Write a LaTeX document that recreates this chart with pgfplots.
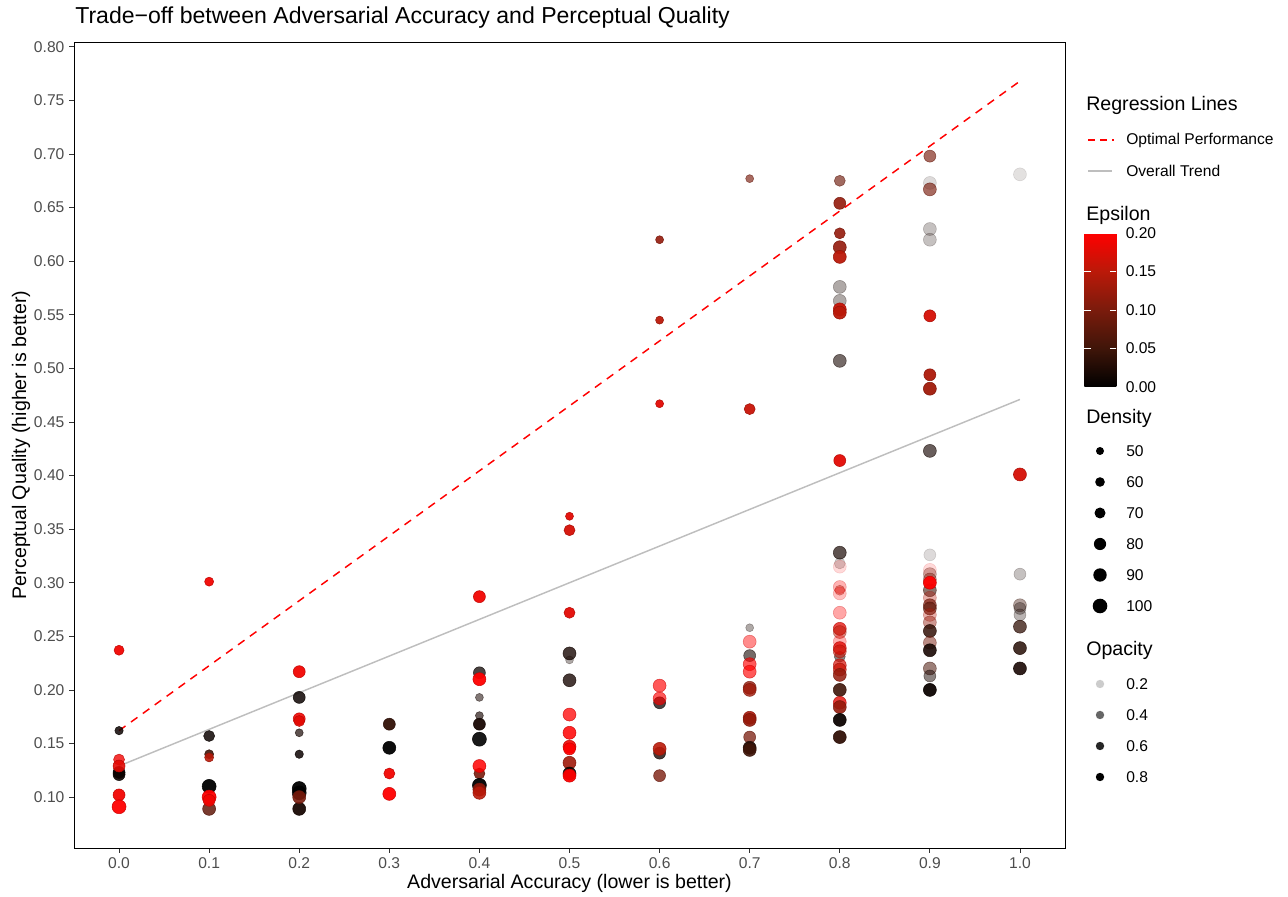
\documentclass[border=0pt]{standalone}
\usepackage{fontspec}
\setmainfont{Liberation Sans}
\usepackage{pgfplots}
\usepackage{pgfplotstable}
\pgfplotsset{compat=1.18}
\definecolor{tickgray}{HTML}{4D4D4D}
\definecolor{tickmark}{HTML}{333333}
\definecolor{trendgray}{HTML}{BEBEBE}
\newcommand\tickfont{\fontsize{11.7}{13}\selectfont}
\newcommand\labfont{\fontsize{14.7}{17}\selectfont}
\newcommand\titlefont{\fontsize{17.3}{20}\selectfont}
\pgfplotsset{colormap={eps}{rgb255=(0,0,0) rgb255=(63,21,9) rgb255=(122,27,12) rgb255=(186,25,9) rgb255=(255,0,0)}}

\pgfplotstableread{
x y eps r a
0.0 0.237 0.19 5.0 0.95
0.0 0.162 0.01 4.2 0.85
0.0 0.123 0.00 6.0 0.95
0.0 0.121 0.01 6.0 0.90
0.0 0.135 0.19 5.5 0.80
0.0 0.129 0.18 6.0 0.90
0.0 0.102 0.19 6.0 0.95
0.0 0.091 0.20 7.0 0.95
0.1 0.301 0.19 4.5 0.95
0.1 0.157 0.01 5.5 0.85
0.1 0.140 0.05 4.5 0.90
0.1 0.137 0.15 4.5 0.90
0.1 0.110 0.00 7.0 0.95
0.1 0.089 0.08 6.5 0.85
0.1 0.100 0.20 7.0 0.95
0.1 0.097 0.19 6.0 0.90
0.2 0.217 0.19 6.0 0.95
0.2 0.193 0.01 6.0 0.85
0.2 0.173 0.19 6.0 0.90
0.2 0.171 0.18 5.5 0.90
0.2 0.160 0.02 4.0 0.70
0.2 0.140 0.01 4.2 0.85
0.2 0.108 0.00 7.0 0.95
0.2 0.104 0.00 7.0 0.90
0.2 0.089 0.02 6.5 0.95
0.2 0.100 0.10 6.5 0.90
0.3 0.168 0.04 6.0 0.95
0.3 0.146 0.00 6.5 0.95
0.3 0.122 0.19 5.5 0.95
0.3 0.103 0.20 6.5 0.95
0.4 0.287 0.19 6.0 0.95
0.4 0.216 0.01 6.0 0.75
0.4 0.210 0.20 6.5 0.95
0.4 0.193 0.02 4.0 0.55
0.4 0.176 0.02 4.0 0.65
0.4 0.168 0.02 6.0 0.95
0.4 0.154 0.00 7.0 0.90
0.4 0.122 0.10 5.5 0.90
0.4 0.129 0.20 6.5 0.85
0.4 0.111 0.00 7.0 0.95
0.4 0.107 0.12 6.5 0.90
0.4 0.104 0.15 6.5 0.90
0.5 0.362 0.18 4.0 0.95
0.5 0.349 0.17 5.5 0.95
0.5 0.272 0.18 5.5 0.95
0.5 0.234 0.02 6.5 0.80
0.5 0.228 0.02 4.0 0.35
0.5 0.209 0.02 6.5 0.80
0.5 0.177 0.20 6.5 0.75
0.5 0.160 0.20 6.5 0.85
0.5 0.147 0.19 6.5 0.90
0.5 0.145 0.20 6.0 0.90
0.5 0.132 0.13 6.5 0.90
0.5 0.122 0.01 6.5 0.90
0.5 0.120 0.20 6.5 0.95
0.6 0.620 0.12 4.0 0.90
0.6 0.545 0.15 4.0 0.95
0.6 0.467 0.18 4.0 0.95
0.6 0.188 0.01 6.0 0.75
0.6 0.204 0.20 6.5 0.65
0.6 0.192 0.20 6.5 0.65
0.6 0.141 0.02 6.0 0.80
0.6 0.145 0.15 6.5 0.90
0.6 0.120 0.10 6.0 0.80
0.7 0.677 0.10 4.0 0.65
0.7 0.462 0.16 5.5 0.95
0.7 0.258 0.02 4.0 0.35
0.7 0.245 0.20 6.5 0.45
0.7 0.232 0.02 6.0 0.60
0.7 0.224 0.20 6.5 0.65
0.7 0.217 0.20 6.5 0.65
0.7 0.202 0.12 6.5 0.80
0.7 0.200 0.13 6.5 0.80
0.7 0.174 0.14 6.5 0.90
0.7 0.172 0.12 6.5 0.90
0.7 0.156 0.10 6.0 0.75
0.7 0.146 0.03 6.5 0.95
0.7 0.144 0.05 6.5 0.90
0.8 0.675 0.09 5.5 0.65
0.8 0.654 0.12 6.0 0.90
0.8 0.626 0.12 5.5 0.90
0.8 0.613 0.12 6.5 0.90
0.8 0.604 0.15 6.5 0.95
0.8 0.576 0.02 6.5 0.35
0.8 0.563 0.02 6.5 0.35
0.8 0.555 0.16 6.5 0.95
0.8 0.552 0.15 6.5 0.95
0.8 0.507 0.02 6.5 0.60
0.8 0.414 0.18 6.0 0.95
0.8 0.328 0.02 6.5 0.70
0.8 0.318 0.02 5.5 0.20
0.8 0.315 0.20 6.5 0.15
0.8 0.296 0.20 6.5 0.30
0.8 0.293 0.15 5.0 0.40
0.8 0.290 0.20 6.5 0.25
0.8 0.272 0.20 6.5 0.35
0.8 0.257 0.18 6.5 0.75
0.8 0.254 0.15 6.5 0.50
0.8 0.245 0.20 6.5 0.30
0.8 0.231 0.02 5.5 0.50
0.8 0.239 0.18 6.5 0.80
0.8 0.236 0.16 6.5 0.60
0.8 0.223 0.17 6.5 0.70
0.8 0.219 0.16 6.5 0.75
0.8 0.214 0.12 6.5 0.85
0.8 0.200 0.05 6.5 0.90
0.8 0.188 0.18 6.5 0.80
0.8 0.184 0.12 6.5 0.90
0.8 0.172 0.01 6.5 0.95
0.8 0.156 0.04 6.5 0.95
0.9 0.698 0.10 6.0 0.65
0.9 0.673 0.02 6.5 0.15
0.9 0.667 0.10 6.5 0.65
0.9 0.630 0.02 6.5 0.25
0.9 0.620 0.02 6.5 0.25
0.9 0.549 0.17 6.0 0.95
0.9 0.494 0.14 6.0 0.95
0.9 0.481 0.13 6.5 0.95
0.9 0.423 0.02 6.5 0.65
0.9 0.326 0.02 6.0 0.15
0.9 0.312 0.20 6.5 0.15
0.9 0.308 0.10 6.5 0.35
0.9 0.303 0.10 6.5 0.45
0.9 0.293 0.05 6.5 0.60
0.9 0.300 0.20 6.5 0.95
0.9 0.286 0.15 6.5 0.35
0.9 0.279 0.10 6.5 0.70
0.9 0.276 0.08 6.5 0.70
0.9 0.270 0.15 6.5 0.35
0.9 0.263 0.12 6.5 0.45
0.9 0.255 0.04 6.5 0.85
0.9 0.244 0.10 6.5 0.50
0.9 0.237 0.02 6.5 0.90
0.9 0.220 0.06 6.5 0.55
0.9 0.213 0.02 6.0 0.50
0.9 0.200 0.01 6.5 0.95
1.0 0.681 0.02 6.5 0.12
1.0 0.401 0.17 6.5 0.95
1.0 0.308 0.02 6.0 0.25
1.0 0.279 0.05 6.5 0.40
1.0 0.276 0.02 6.0 0.35
1.0 0.270 0.02 6.0 0.30
1.0 0.259 0.04 6.5 0.75
1.0 0.239 0.03 6.5 0.85
1.0 0.220 0.02 6.5 0.90
}\pts

\begin{document}
\begin{tikzpicture}
\path[use as bounding box] (0pt,0pt) rectangle (966pt,672pt);
\begin{axis}[
  at={(55.5pt,36pt)}, anchor=south west,
  scale only axis, width=743.25pt, height=604.5pt,
  xmin=-0.05, xmax=1.05, ymin=0.0525, ymax=0.8045,
  xtick={0,0.1,0.2,0.3,0.4,0.5,0.6,0.7,0.8,0.9,1.0},
  xticklabels={0.0,0.1,0.2,0.3,0.4,0.5,0.6,0.7,0.8,0.9,1.0},
  ytick={0.1,0.15,0.2,0.25,0.3,0.35,0.4,0.45,0.5,0.55,0.6,0.65,0.7,0.75,0.8},
  yticklabels={0.10,0.15,0.20,0.25,0.30,0.35,0.40,0.45,0.50,0.55,0.60,0.65,0.70,0.75,0.80},
  xtick pos=lower, ytick pos=left, tick align=outside,
  major tick length=3.7pt,
  tick style={tickmark, line width=0.6pt},
  axis line style={black, line width=0.6pt},
  ticklabel style={font=\tickfont, text=tickgray},
  /pgf/number format/assume math mode=true,
  xlabel={Adversarial Accuracy (lower is better)},
  ylabel={Perceptual Quality (higher is better)},
  label style={font=\labfont},
  xlabel style={yshift=3pt},
  ylabel style={yshift=-4pt},
  colormap name=eps, point meta min=0, point meta max=0.2,
  clip=false,
]
\addplot[scatter, only marks, mark=*,
  point meta=\thisrow{eps},
  visualization depends on={\thisrow{r} \as \rad},
  visualization depends on={\thisrow{a} \as \alp},
  scatter/@pre marker code/.append style={/tikz/mark size={0.75*\rad}, /tikz/line width=0.3pt},
  scatter/@pre marker code/.append code={\pgfsetfillopacity{\alp}\pgfsetstrokeopacity{\alp}},
] table[x=x, y=y] {\pts};
\addplot[red, dashed, line width=1.1pt, dash pattern=on 6pt off 5pt] coordinates {(0,0.162) (1,0.768)};
\addplot[trendgray, line width=1.1pt] coordinates {(0,0.129) (1,0.471)};
\end{axis}

\pgfplotscolorbardrawstandalone[
  colormap name=eps, point meta min=0, point meta max=0.2,
  colorbar/width=24pt,
  colorbar style={
    at={(804.75pt,497.25pt)}, anchor=north west,
    scale only axis, width=24pt, height=115.5pt,
    ytick={0,0.05,0.1,0.15,0.2},
    yticklabels={0.00,0.05,0.10,0.15,0.20},
    ytick pos=both, yticklabel pos=right, tick align=inside,
    major tick length=4.8pt,
    tick style={white, line width=0.6pt},
    axis line style={draw=none},
    yticklabel style={font=\tickfont, text=black, xshift=3.5pt},
    /pgf/number format/assume math mode=true,
  }]

\begin{scope}[x=0.75pt, y=0.75pt]
\node[anchor=west, inner sep=0pt, font=\titlefont] at (75,878) {Trade−off between Adversarial Accuracy and Perceptual Quality};
% legend: regression lines
\node[anchor=west, inner sep=0pt, font=\labfont] at (1086,791) {Regression Lines};
\draw[red, line width=1.1pt, dash pattern=on 5pt off 4pt] (1088,756) -- (1114,756);
\node[anchor=west, inner sep=0pt, font=\tickfont] at (1126,756) {Optimal Performance};
\draw[trendgray, line width=1.1pt] (1088,725) -- (1112,725);
\node[anchor=west, inner sep=0pt, font=\tickfont] at (1126,725) {Overall Trend};
\node[anchor=west, inner sep=0pt, font=\labfont] at (1086,681) {Epsilon};
% density
\node[anchor=west, inner sep=0pt, font=\labfont] at (1086,478) {Density};
\fill (1100,445) circle (4.0);
\node[anchor=west, inner sep=0pt, font=\tickfont] at (1126,445) {50};
\fill (1100,414) circle (4.8);
\node[anchor=west, inner sep=0pt, font=\tickfont] at (1126,414) {60};
\fill (1100,383) circle (5.5);
\node[anchor=west, inner sep=0pt, font=\tickfont] at (1126,383) {70};
\fill (1100,352) circle (6.1);
\node[anchor=west, inner sep=0pt, font=\tickfont] at (1126,352) {80};
\fill (1100,321) circle (6.7);
\node[anchor=west, inner sep=0pt, font=\tickfont] at (1126,321) {90};
\fill (1100,290) circle (7.3);
\node[anchor=west, inner sep=0pt, font=\tickfont] at (1126,290) {100};
% opacity
\node[anchor=west, inner sep=0pt, font=\labfont] at (1086,246) {Opacity};
\fill[black, opacity=0.2] (1100,212) circle (4.2);
\node[anchor=west, inner sep=0pt, font=\tickfont] at (1126,212) {0.2};
\fill[black, opacity=0.6] (1100,181) circle (4.2);
\node[anchor=west, inner sep=0pt, font=\tickfont] at (1126,181) {0.4};
\fill[black, opacity=0.85] (1100,150) circle (4.2);
\node[anchor=west, inner sep=0pt, font=\tickfont] at (1126,150) {0.6};
\fill[black] (1100,119) circle (4.2);
\node[anchor=west, inner sep=0pt, font=\tickfont] at (1126,119) {0.8};
\end{scope}
\end{tikzpicture}
\end{document}
